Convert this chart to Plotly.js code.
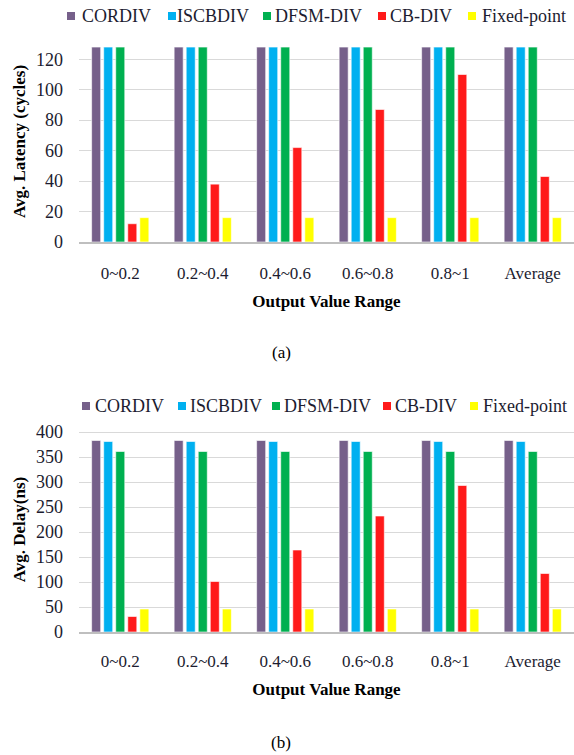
<!DOCTYPE html>
<html>
<head>
<meta charset="utf-8">
<script src="https://cdn.plot.ly/plotly-3.0.1.min.js"></script>
<style>html,body{margin:0;padding:0;background:#fff;}#chart{width:574px;height:755px;}</style>
</head>
<body>
<div id="chart"></div>
<script>
const categories = ["0~0.2", "0.2~0.4", "0.4~0.6", "0.6~0.8", "0.8~1", "Average"];
const seriesNames = ["CORDIV", "ISCBDIV", "DFSM-DIV", "CB-DIV", "Fixed-point"];
const seriesColors = ["#76608a", "#00b0f0", "#00b050", "#ff1a1a", "#ffff00"];

// (a) Avg. Latency (cycles)
const latCORDIV  = [128, 128, 128, 128, 128, 128];
const latISCBDIV = [128, 128, 128, 128, 128, 128];
const latDFSM    = [128, 128, 128, 128, 128, 128];
const latCB      = [12, 38, 62, 87, 110, 43];
const latFixed   = [16, 16, 16, 16, 16, 16];

// (b) Avg. Delay (ns)
const delCORDIV  = [383, 383, 383, 383, 383, 383];
const delISCBDIV = [381, 381, 381, 381, 381, 381];
const delDFSM    = [361, 361, 361, 361, 361, 361];
const delCB      = [31, 101, 164, 232, 293, 117];
const delFixed   = [46, 46, 46, 46, 46, 46];

const latency = [latCORDIV, latISCBDIV, latDFSM, latCB, latFixed];
const delay = [delCORDIV, delISCBDIV, delDFSM, delCB, delFixed];

const serif = "Liberation Serif";
const textColor = "#1c1c30";

const traces = [];
latency.forEach((vals, i) => {
  traces.push({
    type: "bar", x: categories, y: vals, name: seriesNames[i],
    xaxis: "x", yaxis: "y", showlegend: false,
    marker: {color: seriesColors[i], line: {color: "rgba(255,255,255,0.6)", width: 1}},
    hoverinfo: "y"
  });
});
delay.forEach((vals, i) => {
  traces.push({
    type: "bar", x: categories, y: vals, name: seriesNames[i],
    xaxis: "x2", yaxis: "y2", showlegend: false,
    marker: {color: seriesColors[i], line: {color: "rgba(255,255,255,0.6)", width: 1}},
    hoverinfo: "y"
  });
});

const H = 755, W = 574;
const py = v => 1 - v / H;
const px = v => v / W;

// legend layout (pixel positions of swatches and labels)
const legendRows = [
  {yc: 16, sw: [67, 168, 263, 378, 468], tx: [81, 176, 274, 389, 481]},
  {yc: 406, sw: [82, 178, 272, 383, 470], tx: [94, 189, 283, 394, 482]}
];

const shapes = [];
const annotations = [];
legendRows.forEach(row => {
  seriesNames.forEach((name, i) => {
    shapes.push({
      type: "rect", xref: "paper", yref: "paper",
      x0: px(row.sw[i]), x1: px(row.sw[i] + 8),
      y0: py(row.yc + 4), y1: py(row.yc - 4),
      fillcolor: seriesColors[i], line: {width: 0}
    });
    annotations.push({
      text: name, xref: "paper", yref: "paper", x: px(row.tx[i]), y: py(row.yc),
      xanchor: "left", yanchor: "middle", showarrow: false, borderpad: 0,
      font: {family: serif, size: 18, color: textColor}
    });
  });
});
annotations.push(
  {text: "(a)", x: px(281), y: py(352), xref: "paper", yref: "paper", showarrow: false,
   font: {family: serif, size: 17, color: "#000"}, xanchor: "center", yanchor: "middle"},
  {text: "(b)", x: px(281), y: py(742), xref: "paper", yref: "paper", showarrow: false,
   font: {family: serif, size: 17, color: "#000"}, xanchor: "center", yanchor: "middle"}
);

const xCommon = {
  showgrid: false, showline: true, linecolor: "#bfbfbf", linewidth: 2,
  ticks: "", tickfont: {family: serif, size: 17, color: textColor},
  automargin: false
};
const yCommon = {
  showgrid: true, gridcolor: "#d9d9d9", gridwidth: 1, zeroline: false,
  showline: false, ticks: "", tickfont: {family: serif, size: 18, color: textColor},
  ticklabelstandoff: 15, automargin: false
};

const layout = {
  width: W, height: H,
  margin: {l: 0, r: 0, t: 0, b: 0},
  paper_bgcolor: "#fff", plot_bgcolor: "#fff",
  barmode: "group", bargap: 0.27, bargroupgap: 0.25,
  showlegend: false,
  font: {family: serif},
  xaxis: Object.assign({}, xCommon, {
    domain: [px(79), 1], anchor: "y", ticklabelstandoff: 15,
    title: {text: "<b>Output Value Range</b>", font: {family: serif, size: 17, color: "#000"}, standoff: 13}
  }),
  yaxis: Object.assign({}, yCommon, {
    domain: [py(242), py(41)], anchor: "x", range: [0, 132], dtick: 20,
    title: {text: "<b>Avg. Latency (cycles)</b>", font: {family: serif, size: 17, color: "#000"}, standoff: 6}
  }),
  xaxis2: Object.assign({}, xCommon, {
    domain: [px(79), 1], anchor: "y2", ticklabelstandoff: 13,
    title: {text: "<b>Output Value Range</b>", font: {family: serif, size: 17, color: "#000"}, standoff: 13}
  }),
  yaxis2: Object.assign({}, yCommon, {
    domain: [py(632), py(427)], anchor: "x2", range: [0, 410], dtick: 50,
    title: {text: "<b>Avg. Delay(ns)</b>", font: {family: serif, size: 17, color: "#000"}, standoff: 6}
  }),
  shapes: shapes,
  annotations: annotations
};

Plotly.newPlot("chart", traces, layout, {displayModeBar: false, staticPlot: true});
</script>
</body>
</html>
